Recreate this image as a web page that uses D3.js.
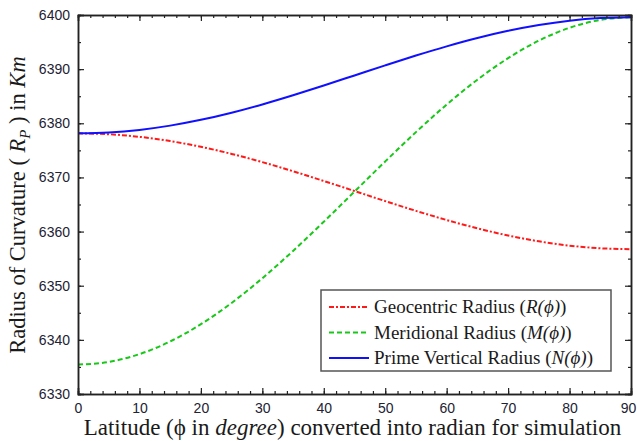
<!DOCTYPE html>
<html><head><meta charset="utf-8">
<script src="https://cdn.jsdelivr.net/npm/d3@7"></script>
<style>body{margin:0;background:#fff}</style>
</head><body>
<svg id="c" width="637" height="441"></svg>
<script>
const latitudes = [0,5,10,15,20,25,30,35,40,45,50,55,60,65,70,75,80,85,90];
const geocentric = [6378.137,6377.976,6377.497,6376.716,6375.654,6374.344,6372.824,6371.141,6369.345,6367.489,6365.631,6363.827,6362.132,6360.598,6359.272,6358.196,6357.402,6356.916,6356.752];
const meridional = [6335.439,6335.922,6337.358,6339.703,6342.888,6346.818,6351.377,6356.426,6361.815,6367.381,6372.955,6378.367,6383.452,6388.053,6392.030,6395.258,6397.639,6399.098,6399.594];
const primeVertical = [6378.137,6378.299,6378.781,6379.568,6380.636,6381.954,6383.481,6385.172,6386.976,6388.838,6390.702,6392.511,6394.209,6395.745,6397.072,6398.149,6398.943,6399.429,6399.594];
const xTicks = [0,10,20,30,40,50,60,70,80,90];
const yTicks = [6330,6340,6350,6360,6370,6380,6390,6400];

const W=637,H=441,m={l:78,t:15,r:6,b:47};
const svg=d3.select('#c');
const x=d3.scaleLinear().domain([0,90]).range([m.l,W-m.r]);
const y=d3.scaleLinear().domain([6330,6400]).range([H-m.b,m.t]);
const tickFont='"Liberation Sans Narrow","Arial Narrow","Liberation Sans",Arial,sans-serif';
const serif='"Liberation Serif","DejaVu Serif",serif';

// lines
const series=[
 {name:'Geocentric Radius ',sym:'R',vals:geocentric,color:'#ff1a1a',dash:'5,2,2,2'},
 {name:'Meridional Radius ',sym:'M',vals:meridional,color:'#18c818',dash:'5,3'},
 {name:'Prime Vertical Radius ',sym:'N',vals:primeVertical,color:'#1010ff',dash:null}
];
const line=d3.line().x((d,i)=>x(latitudes[i])).y(d=>y(d)).curve(d3.curveMonotoneX);
series.forEach(s=>{
  svg.append('path').attr('d',line(s.vals)).attr('fill','none').attr('stroke',s.color)
   .attr('stroke-width',2).attr('stroke-dasharray',s.dash);
});

// axes with inward ticks
function axisG(axis,tr){return svg.append('g').attr('transform',tr).call(axis);}
const minorX=d3.range(0,91,2), minorY=d3.range(6330,6401,5);
const axes=[];
const xb=axisG(d3.axisBottom(x).tickValues(xTicks).tickSize(-6).tickPadding(9).tickFormat(d3.format('d')),`translate(0,${H-m.b})`);
axes.push(xb);
axes.push(axisG(d3.axisBottom(x).tickValues(minorX).tickSize(-3).tickFormat(''),`translate(0,${H-m.b})`));
axes.push(axisG(d3.axisTop(x).tickValues(xTicks).tickSize(-6).tickFormat(''),`translate(0,${m.t})`));
axes.push(axisG(d3.axisTop(x).tickValues(minorX).tickSize(-3).tickFormat(''),`translate(0,${m.t})`));
axes.push(axisG(d3.axisLeft(y).tickValues(yTicks).tickSize(-6).tickPadding(8).tickFormat(d3.format('d')),`translate(${m.l},0)`));
axes.push(axisG(d3.axisLeft(y).tickValues(minorY).tickSize(-3).tickFormat(''),`translate(${m.l},0)`));
axes.push(axisG(d3.axisRight(y).tickValues(yTicks).tickSize(-6).tickFormat(''),`translate(${W-m.r},0)`));
axes.push(axisG(d3.axisRight(y).tickValues(minorY).tickSize(-3).tickFormat(''),`translate(${W-m.r},0)`));
axes.forEach(g=>{
  g.select('.domain').attr('stroke','#222').attr('stroke-width',1.5);
  g.selectAll('line').attr('stroke','#222').attr('stroke-width',1.2);
  g.selectAll('text').attr('font-family',tickFont).attr('font-size',14).attr('fill','#222233');
});
xb.selectAll('.tick text').filter(d=>d===90).attr('dx',-3);

// x label
const xl=svg.append('text').attr('x',(m.l+W-m.r)/2-2).attr('y',435).attr('text-anchor','middle')
 .attr('font-family',serif).attr('font-size',23).attr('fill','#1a1a1a');
xl.append('tspan').text('Latitude (ϕ in ');
xl.append('tspan').attr('font-style','italic').text('degree');
xl.append('tspan').text(') converted into radian for simulation');

// y label
const yl=svg.append('text').attr('transform',`translate(25,205) rotate(-90)`).attr('text-anchor','middle')
 .attr('font-family',serif).attr('font-size',22.5).attr('fill','#1a1a1a');
yl.append('tspan').text('Radius of Curvature ( ');
yl.append('tspan').attr('font-style','italic').text('R');
yl.append('tspan').attr('font-style','italic').attr('font-size',15).attr('dy',5).text('P');
yl.append('tspan').attr('dy',-5).text(' ) in ');
yl.append('tspan').attr('font-style','italic').text('Km');

// legend
const lg=svg.append('g');
lg.append('rect').attr('x',321).attr('y',290).attr('width',290).attr('height',81)
 .attr('fill','#fff').attr('stroke','#555').attr('stroke-width',1.5);
series.forEach((s,i)=>{
  const yy=307+i*25.5;
  lg.append('line').attr('x1',329).attr('x2',369).attr('y1',yy).attr('y2',yy)
   .attr('stroke',s.color).attr('stroke-width',2).attr('stroke-dasharray',s.dash);
  const t=lg.append('text').attr('x',374).attr('y',yy+6).attr('font-family',serif).attr('font-size',19).attr('fill','#1a1a1a');
  t.append('tspan').text(s.name+'(');
  t.append('tspan').attr('font-style','italic').text(s.sym+'(ϕ)');
  t.append('tspan').text(')');
});
</script>
</body></html>
